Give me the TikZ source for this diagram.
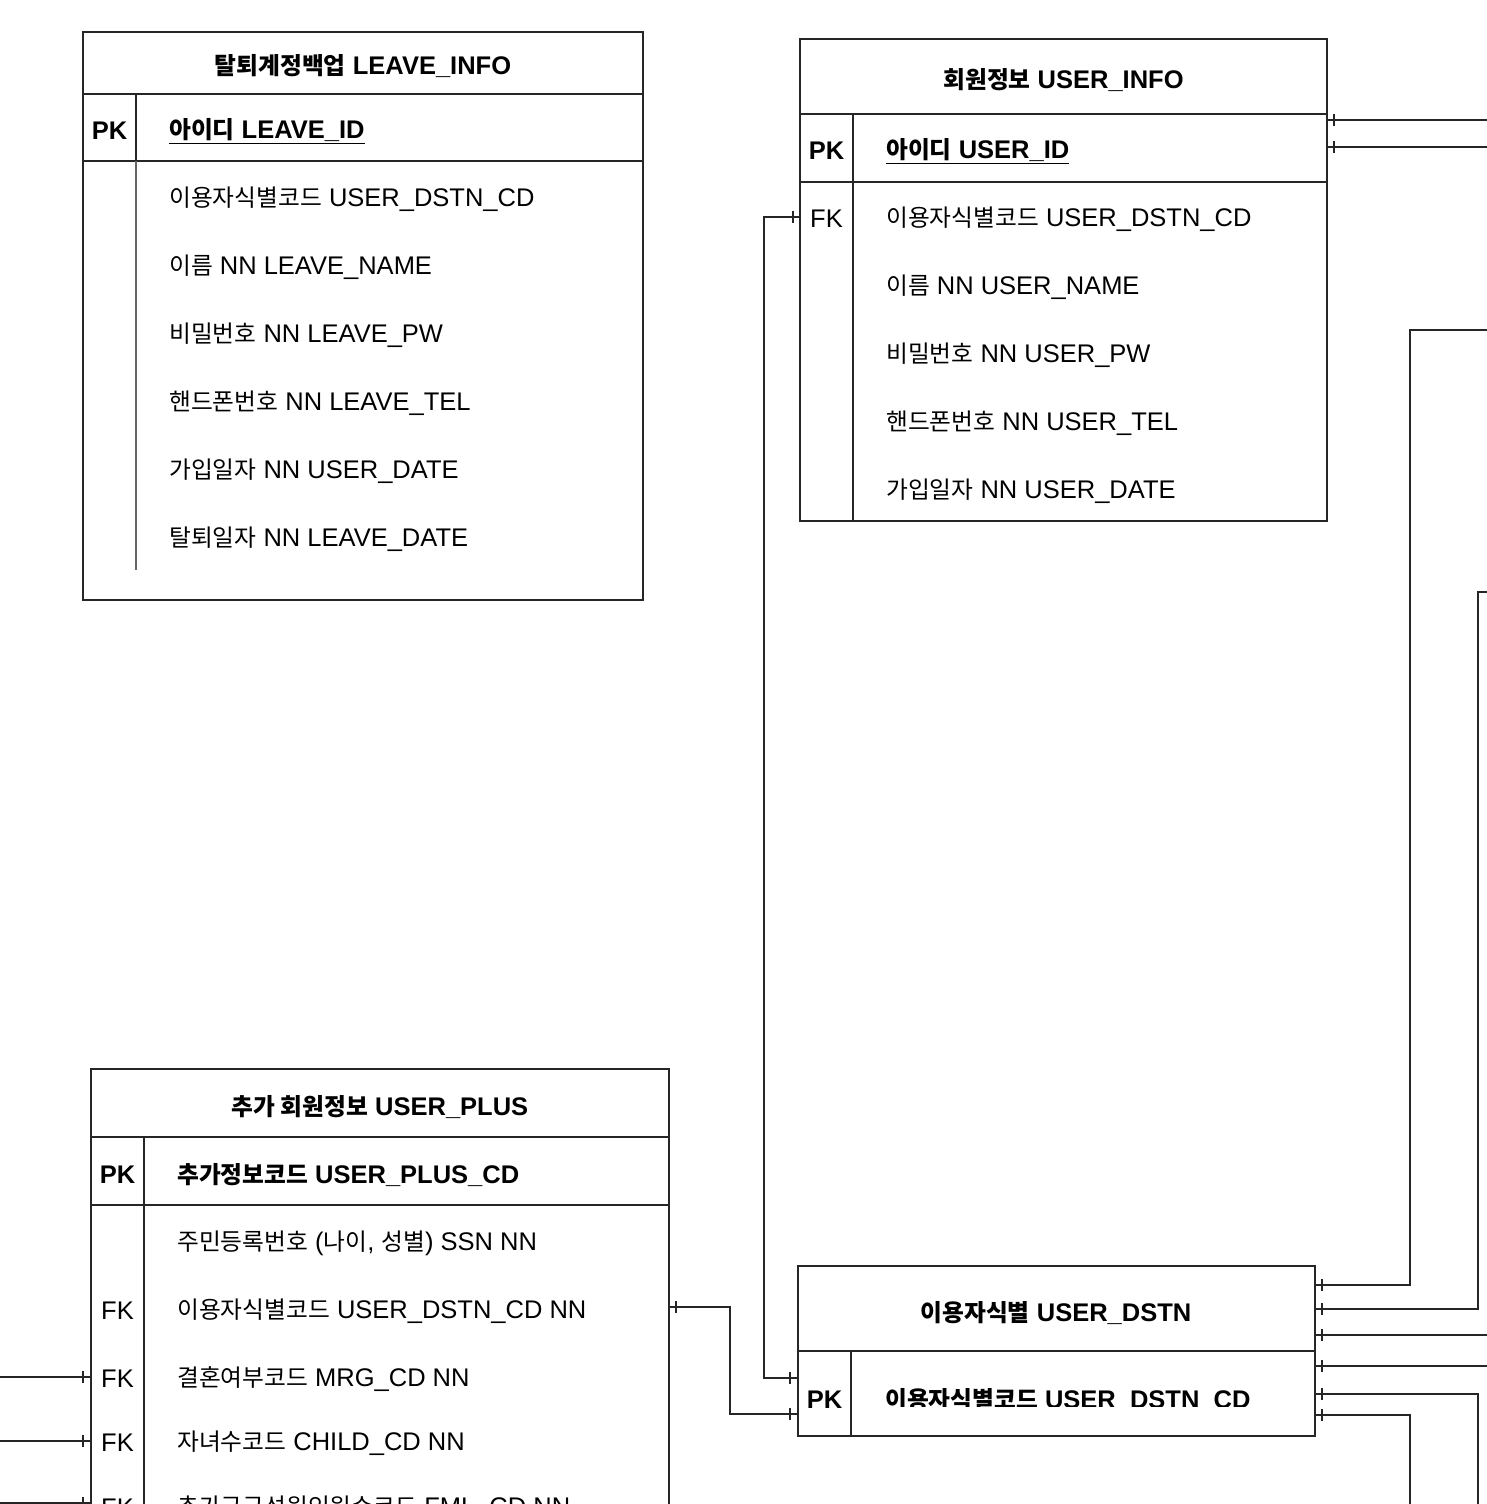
\documentclass[tikz,border=0pt]{standalone}
\usepackage{fontspec}
\setmainfont{Liberation Sans}
\newfontfamily\kr[Scale=0.93]{Noto Sans CJK KR}
\usetikzlibrary{decorations.markings}
\newcommand\K[1]{{\kr #1}}
\tikzset{
  tbl/.style={line width=1.3pt, black!85},
  divgray/.style={line width=1.3pt, black!60},
  fld/.style={anchor=west, inner sep=0pt},
  keylab/.style={inner sep=0pt},
  ttl/.style={inner sep=0pt, font=\fontsize{25.5}{30}\selectfont\bfseries},
  bld/.style={font=\fontsize{25.5}{30}\selectfont\bfseries},
  conn/.style={line width=1.2pt, black!85},
  tickstart/.style={postaction={decorate,decoration={markings,
     mark=at position 7pt with {\draw[line width=1.2pt] (0,-6pt)--(0,6pt);}}}},
  tickend/.style={postaction={decorate,decoration={markings,
     mark=at position -8pt with {\draw[line width=1.2pt] (0,-6pt)--(0,6pt);}}}},
}
\begin{document}
\begin{tikzpicture}[x=1pt,y=-1pt,font=\fontsize{25.5}{30}\selectfont]
\useasboundingbox (0,0) rectangle (1486,1504);
\fill[white] (0,0) rectangle (1486,1504);

% ---------------- LEAVE_INFO ----------------
\draw[tbl] (83,32) rectangle (643,600);
\draw[tbl] (83,94) -- (643,94);
\draw[tbl] (83,161) -- (643,161);
\draw[tbl] (136,94) -- (136,161);
\draw[divgray] (136,161) -- (136,570);
\node[ttl] (li-t) at (363,66) {\K{탈퇴계정백업} LEAVE\_INFO};
\node[keylab,bld] (li-pkk) at (109.5,131) {PK};
\node[fld,bld] (li-pk) at (169,131) {\underline{\K{아이디} LEAVE\_ID}};
\node[fld] (li-f1) at (169,199) {\K{이용자식별코드} USER\_DSTN\_CD};
\node[fld] (li-f2) at (169,267) {\K{이름} NN LEAVE\_NAME};
\node[fld] (li-f3) at (169,335) {\K{비밀번호} NN LEAVE\_PW};
\node[fld] (li-f4) at (169,403) {\K{핸드폰번호} NN LEAVE\_TEL};
\node[fld] (li-f5) at (169,471) {\K{가입일자} NN USER\_DATE};
\node[fld] (li-f6) at (169,539) {\K{탈퇴일자} NN LEAVE\_DATE};

% ---------------- USER_INFO ----------------
\draw[tbl] (800,39) rectangle (1327,521);
\draw[tbl] (800,114) -- (1327,114);
\draw[tbl] (800,182) -- (1327,182);
\draw[tbl] (853,114) -- (853,521);
\node[ttl] (ui-t) at (1063.5,80) {\K{회원정보} USER\_INFO};
\node[keylab,bld] (ui-pkk) at (826.5,151) {PK};
\node[fld,bld] (ui-pk) at (886,151) {\underline{\K{아이디} USER\_ID}};
\node[keylab] (ui-fkk) at (826.5,219) {FK};
\node[fld] (ui-f1) at (886,219) {\K{이용자식별코드} USER\_DSTN\_CD};
\node[fld] (ui-f2) at (886,287) {\K{이름} NN USER\_NAME};
\node[fld] (ui-f3) at (886,355) {\K{비밀번호} NN USER\_PW};
\node[fld] (ui-f4) at (886,423) {\K{핸드폰번호} NN USER\_TEL};
\node[fld] (ui-f5) at (886,491) {\K{가입일자} NN USER\_DATE};

% ---------------- USER_PLUS ----------------
\draw[tbl] (91,1069) rectangle (669,1530);
\draw[tbl] (91,1137) -- (669,1137);
\draw[tbl] (91,1205) -- (669,1205);
\draw[tbl] (144,1137) -- (144,1530);
\node[ttl] (up-t) at (380,1107) {\K{추가 회원정보} USER\_PLUS};
\node[keylab,bld] (up-pkk) at (117.5,1175) {PK};
\node[fld,bld] (up-pk) at (177,1175) {\K{추가정보코드} USER\_PLUS\_CD};
\node[fld] (up-f1) at (177,1243) {\K{주민등록번호} (\K{나이}, \K{성별}) SSN NN};
\node[keylab] (up-k2) at (117.5,1311) {FK};
\node[fld] (up-f2) at (177,1311) {\K{이용자식별코드} USER\_DSTN\_CD NN};
\node[keylab] (up-k3) at (117.5,1379) {FK};
\node[fld] (up-f3) at (177,1379) {\K{결혼여부코드} MRG\_CD NN};
\node[keylab] (up-k4) at (117.5,1443) {FK};
\node[fld] (up-f4) at (177,1443) {\K{자녀수코드} CHILD\_CD NN};
\node[keylab] (up-k5) at (117.5,1508) {FK};
\node[fld] (up-f5) at (177,1508) {\K{추가구구성원인원수코드} FML\_CD NN};

% ---------------- USER_DSTN ----------------
\draw[tbl] (798,1266) rectangle (1315,1436);
\draw[tbl] (798,1351) -- (1315,1351);
\draw[tbl] (851,1351) -- (851,1436);
\node[ttl] (ud-t) at (1056,1313) {\K{이용자식별} USER\_DSTN};
\node[keylab,bld] (ud-pkk) at (824.5,1400) {PK};
\begin{scope}
\clip (851,1351) rectangle (1315,1406);
\node[fld,bld] (ud-pk) at (885,1401) {\underline{\K{이용자식별코드} USER\_DSTN\_CD}};
\end{scope}

% ---------------- connector ends ----------------
\coordinate (ui-fkL) at (800,217);
\coordinate (ud-inA) at (798,1378);
\coordinate (ud-inB) at (798,1414);
\coordinate (up-fkR) at (669,1307);
\coordinate (up-fk3) at (91,1377);
\coordinate (up-fk4) at (91,1441);
\coordinate (up-fk5) at (91,1503);
\coordinate (ext-l3) at (-5,1377);
\coordinate (ext-l4) at (-5,1441);
\coordinate (ext-l5) at (-5,1503);
\coordinate (ui-r1) at (1327,120);
\coordinate (ui-r2) at (1327,147);
\coordinate (ext-r1) at (1492,120);
\coordinate (ext-r2) at (1492,147);
\coordinate (ud-r1) at (1315,1285);
\coordinate (ud-r2) at (1315,1309);
\coordinate (ud-r3) at (1315,1335);
\coordinate (ud-r4) at (1315,1366);
\coordinate (ud-r5) at (1315,1394);
\coordinate (ud-r6) at (1315,1415);
\coordinate (ext-a) at (1492,330);
\coordinate (ext-b) at (1492,592);
\coordinate (ext-c) at (1492,1335);
\coordinate (ext-d) at (1492,1366);
\coordinate (ext-e) at (1478,1512);
\coordinate (ext-f) at (1410,1512);

% ---------------- connectors ----------------
\draw[conn,tickstart,tickend] (ui-fkL) -- (764,217) |- (ud-inA);
\draw[conn,tickstart,tickend] (up-fkR) -- (730,1307) |- (ud-inB);
\draw[conn,tickend] (ext-l3) -- (up-fk3);
\draw[conn,tickend] (ext-l4) -- (up-fk4);
\draw[conn,tickend] (ext-l5) -- (up-fk5);
\draw[conn,tickstart] (ui-r1) -- (ext-r1);
\draw[conn,tickstart] (ui-r2) -- (ext-r2);
\draw[conn,tickstart] (ud-r1) -- (1410,1285) -- (1410,330) -- (ext-a);
\draw[conn,tickstart] (ud-r2) -- (1478,1309) -- (1478,592) -- (ext-b);
\draw[conn,tickstart] (ud-r3) -- (ext-c);
\draw[conn,tickstart] (ud-r4) -- (ext-d);
\draw[conn,tickstart] (ud-r5) -| (ext-e);
\draw[conn,tickstart] (ud-r6) -| (ext-f);
\end{tikzpicture}
\end{document}
